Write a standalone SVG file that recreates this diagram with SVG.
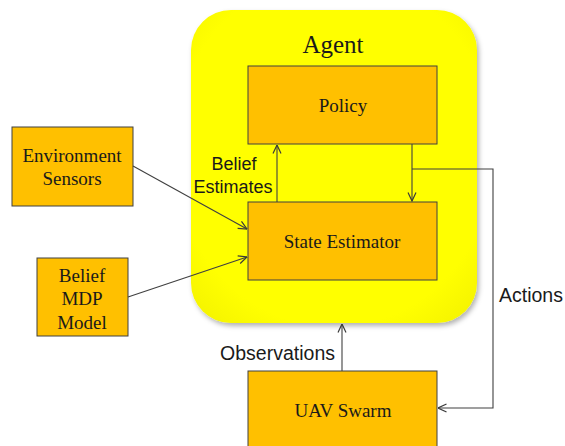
<svg xmlns="http://www.w3.org/2000/svg" width="565" height="446" viewBox="0 0 565 446">
<defs>
<filter id="sh" x="-10%" y="-10%" width="120%" height="120%">
<feDropShadow dx="2" dy="3" stdDeviation="2.5" flood-color="#000" flood-opacity="0.3"/>
</filter>
<radialGradient id="yg" cx="0.5" cy="0.45" r="0.75">
<stop offset="0.75" stop-color="#FFFF00"/>
<stop offset="1" stop-color="#F2F000"/>
</radialGradient>
<marker id="ah" viewBox="0 0 10 10" refX="9.5" refY="5" markerWidth="10" markerHeight="10" markerUnits="userSpaceOnUse" orient="auto">
<path d="M1,1 L9.5,5 L1,9" fill="none" stroke="#3a3a3a" stroke-width="1.2"/>
</marker>
</defs>
<style>
.box{fill:#FFC000;stroke:#404040;stroke-width:1}
.ser{font-family:"Liberation Serif","Times New Roman",serif;font-size:19px;fill:#1a1a1a;text-anchor:middle}
.san{font-family:"Liberation Sans",Arial,sans-serif;font-size:19.5px;fill:#1a1a1a}
.ln{fill:none;stroke:#404040;stroke-width:1.1}
</style>
<rect width="565" height="446" fill="#fff"/>
<g id="agent">
<rect x="191" y="10" width="286" height="313" rx="40" ry="40" fill="url(#yg)" filter="url(#sh)"/>
<text x="333" y="53" class="ser" style="font-size:25px">Agent</text>
</g>
<g id="policy">
<rect class="box" x="248" y="66" width="189" height="78"/>
<text x="343" y="112" class="ser">Policy</text>
</g>
<g id="state-estimator">
<rect class="box" x="248" y="202" width="189" height="78"/>
<text x="342" y="248" class="ser">State Estimator</text>
</g>
<g id="environment-sensors">
<rect class="box" x="12" y="127" width="121" height="79"/>
<text x="72" y="162" class="ser">Environment</text>
<text x="72" y="185" class="ser">Sensors</text>
</g>
<g id="belief-mdp-model">
<rect class="box" x="37" y="258" width="91" height="78"/>
<text x="82" y="282" class="ser">Belief</text>
<text x="82" y="305" class="ser">MDP</text>
<text x="82" y="329" class="ser">Model</text>
</g>
<g id="uav-swarm">
<rect class="box" x="248" y="371" width="189" height="85"/>
<text x="343" y="417" class="ser">UAV Swarm</text>
</g>
<g id="connectors">
<line class="ln" x1="277" y1="202" x2="277" y2="145" marker-end="url(#ah)"/>
<line class="ln" x1="412" y1="144" x2="412" y2="201" marker-end="url(#ah)"/>
<polyline class="ln" points="412,169 493,169 493,408 438,408" marker-end="url(#ah)"/>
<line class="ln" x1="133" y1="166" x2="247" y2="229" marker-end="url(#ah)"/>
<line class="ln" x1="128" y1="297" x2="247" y2="257" marker-end="url(#ah)"/>
<line class="ln" x1="342" y1="371" x2="342" y2="324" marker-end="url(#ah)"/>
<text x="234" y="170" class="san" text-anchor="middle" style="font-size:18px">Belief</text>
<text x="233" y="193" class="san" text-anchor="middle" style="font-size:18px">Estimates</text>
<text x="499" y="302" class="san">Actions</text>
<text x="335" y="360" class="san" text-anchor="end">Observations</text>
</g>
</svg>
